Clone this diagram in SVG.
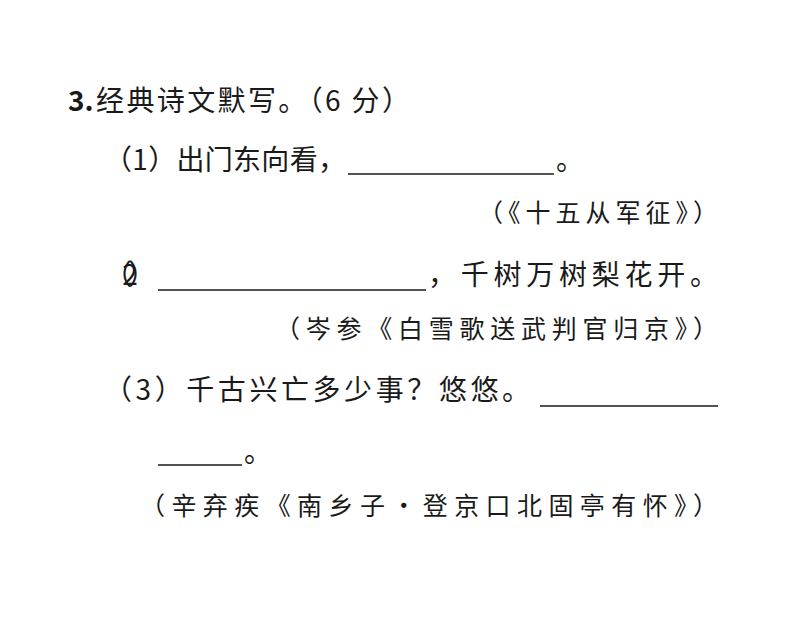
<svg xmlns="http://www.w3.org/2000/svg" width="794" height="644" viewBox="0 0 794 644">
<style>
.t{font-family:"Noto Sans CJK SC","Noto Sans",sans-serif;font-size:28px;fill:#1a1a1a}
.s{font-family:"Noto Sans CJK SC","Noto Sans",sans-serif;font-size:25px;fill:#1a1a1a}
.u{stroke:#1a1a1a;stroke-width:1.5}
</style>
<rect width="794" height="644" fill="#fff"/>
<text x="68" y="111" class="t" font-family="Liberation Serif,serif" font-weight="bold">3.</text>
<text x="96" y="111" class="t" textLength="314" lengthAdjust="spacing">经典诗文默写。（6 分）</text>
<text x="104" y="170" class="t" textLength="242" lengthAdjust="spacing">（1）出门东向看，</text>
<line x1="348" y1="174" x2="554" y2="174" class="u"/>
<text x="556" y="170" class="t">。</text>
<text x="478" y="222" class="s" textLength="240" lengthAdjust="spacing">（《十五从军征》）</text>
<text x="104" y="285" class="t" textLength="52" lengthAdjust="spacing">（2）</text>
<line x1="158" y1="290" x2="426" y2="290" class="u"/>
<text x="428" y="285" class="t" textLength="290" lengthAdjust="spacing">，千树万树梨花开。</text>
<text x="275" y="338" class="s" textLength="443" lengthAdjust="spacing">（岑参《白雪歌送武判官归京》）</text>
<text x="104" y="400" class="t" textLength="426" lengthAdjust="spacing">（3）千古兴亡多少事？悠悠。</text>
<line x1="540" y1="406" x2="718" y2="406" class="u"/>
<line x1="158" y1="465" x2="242" y2="465" class="u"/>
<text x="244" y="462" class="t">。</text>
<text x="140" y="515" class="s" textLength="578" lengthAdjust="spacing">（辛弃疾《南乡子·登京口北固亭有怀》）</text>
</svg>
